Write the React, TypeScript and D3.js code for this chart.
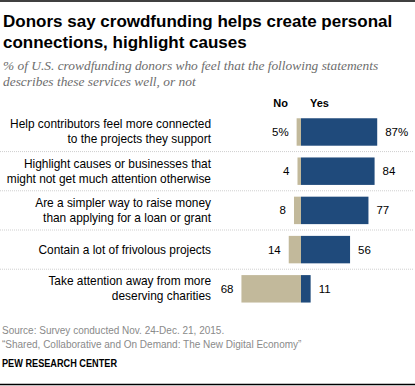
import React, { useEffect, useRef } from 'react';
import * as d3 from 'd3';

const categories = [
  ['Help contributors feel more connected', 'to the projects they support'],
  ['Highlight causes or businesses that', 'might not get much attention otherwise'],
  ['Are a simpler way to raise money', 'than applying for a loan or grant'],
  ['Contain a lot of frivolous projects'],
  ['Take attention away from more', 'deserving charities'],
];
const noValues = [5, 4, 8, 14, 68];
const yesValues = [87, 84, 77, 56, 11];

const W = 415;
const H = 386;
const SANS = '"Liberation Sans", Arial, sans-serif';

const App = () => {
  const ref = useRef<SVGSVGElement>(null);

  useEffect(() => {
    const svg = d3.select(ref.current)
      .attr('width', W)
      .attr('height', H);

    svg.selectAll('*').remove();

    const idx = categories.map((d, i) => i);

    const x = d3.scaleLinear()
      .domain([-100, 100])
      .range([213.4, 388.6]);

    const y = d3.scaleBand<number>()
      .domain(idx)
      .range([106.5, 314.3])
      .padding(0.3);

    // top and bottom rules
    svg.append('line')
      .attr('x1', 0).attr('x2', W).attr('y1', 1).attr('y2', 1)
      .attr('stroke', '#000').attr('stroke-width', 1.5);
    svg.append('line')
      .attr('x1', 0).attr('x2', W).attr('y1', 384.5).attr('y2', 384.5)
      .attr('stroke', '#000').attr('stroke-width', 1.5);

    // title
    const title = svg.append('text')
      .attr('font-family', SANS)
      .attr('font-weight', 'bold')
      .attr('font-size', 17)
      .attr('fill', '#000');
    title.append('tspan').attr('x', 3).attr('y', 27).text('Donors say crowdfunding helps create personal');
    title.append('tspan').attr('x', 3).attr('y', 48).text('connections, highlight causes');

    // subtitle
    const sub = svg.append('text')
      .attr('font-family', '"Liberation Serif", "Times New Roman", serif')
      .attr('font-style', 'italic')
      .attr('font-size', 13.4)
      .attr('fill', '#6d6d6d');
    sub.append('tspan').attr('x', 3).attr('y', 70).text('% of U.S. crowdfunding donors who feel that the following statements');
    sub.append('tspan').attr('x', 3).attr('y', 85.5).text('describes these services well, or not');

    // column headers
    svg.append('text')
      .attr('x', 288).attr('y', 107)
      .attr('text-anchor', 'end')
      .attr('font-family', SANS).attr('font-weight', 'bold').attr('font-size', 11)
      .text('No');
    svg.append('text')
      .attr('x', 310).attr('y', 107)
      .attr('font-family', SANS).attr('font-weight', 'bold').attr('font-size', 11)
      .text('Yes');

    // separators
    svg.selectAll('line.sep')
      .data(idx.slice(1))
      .enter()
      .append('line')
      .attr('class', 'sep')
      .attr('x1', 0).attr('x2', 413)
      .attr('y1', d => y(d)! - y.step() * y.paddingInner() / 2)
      .attr('y2', d => y(d)! - y.step() * y.paddingInner() / 2)
      .attr('stroke', '#cfcfcf')
      .attr('stroke-dasharray', '1,1');

    // row labels
    const labels = svg.selectAll('text.lab')
      .data(categories)
      .enter()
      .append('text')
      .attr('class', 'lab')
      .attr('text-anchor', 'end')
      .attr('font-family', SANS)
      .attr('font-size', 11.9)
      .attr('fill', '#000');
    labels.each(function (d, i) {
      const cy = y(i)! + y.bandwidth() / 2;
      const start = cy + 4 - (d.length - 1) * 7.5;
      d3.select(this).selectAll('tspan')
        .data(d)
        .enter()
        .append('tspan')
        .attr('x', 211)
        .attr('y', (_, j) => start + j * 15)
        .text(t => t);
    });

    // No bars
    svg.selectAll('rect.no')
      .data(noValues)
      .enter()
      .append('rect')
      .attr('class', 'no')
      .attr('x', d => x(-d))
      .attr('y', (d, i) => y(i)!)
      .attr('width', d => x(0) - x(-d))
      .attr('height', y.bandwidth())
      .attr('fill', '#c2b99b');

    // Yes bars
    svg.selectAll('rect.yes')
      .data(yesValues)
      .enter()
      .append('rect')
      .attr('class', 'yes')
      .attr('x', x(0))
      .attr('y', (d, i) => y(i)!)
      .attr('width', d => x(d) - x(0))
      .attr('height', y.bandwidth())
      .attr('fill', '#1f4a7b');

    // value labels
    svg.selectAll('text.nov')
      .data(noValues)
      .enter()
      .append('text')
      .attr('class', 'nov')
      .attr('x', d => x(-d) - 8)
      .attr('y', (d, i) => y(i)! + y.bandwidth() / 2 + 4)
      .attr('text-anchor', 'end')
      .attr('font-family', SANS).attr('font-size', 11.5).attr('fill', '#000')
      .text((d, i) => i === 0 ? `${d}%` : `${d}`);

    svg.selectAll('text.yesv')
      .data(yesValues)
      .enter()
      .append('text')
      .attr('class', 'yesv')
      .attr('x', d => x(d) + 8)
      .attr('y', (d, i) => y(i)! + y.bandwidth() / 2 + 4)
      .attr('font-family', SANS).attr('font-size', 11.5).attr('fill', '#000')
      .text((d, i) => i === 0 ? `${d}%` : `${d}`);

    // footer
    const src = svg.append('text')
      .attr('font-family', SANS).attr('font-size', 10).attr('fill', '#8a8a8a');
    src.append('tspan').attr('x', 2).attr('y', 334).text('Source: Survey conducted Nov. 24-Dec. 21, 2015.');
    src.append('tspan').attr('x', 2).attr('y', 348).text('\u201cShared, Collaborative and On Demand: The New Digital Economy\u201d');

    svg.append('text')
      .attr('x', 2).attr('y', 367)
      .attr('font-family', SANS).attr('font-size', 10).attr('font-weight', 'bold').attr('fill', '#000')
      .attr('textLength', 115).attr('lengthAdjust', 'spacingAndGlyphs')
      .text('PEW RESEARCH CENTER');
  }, []);

  return <svg ref={ref} style={{ position: 'absolute', left: 0, top: 0 }}></svg>;
};

export default App;
